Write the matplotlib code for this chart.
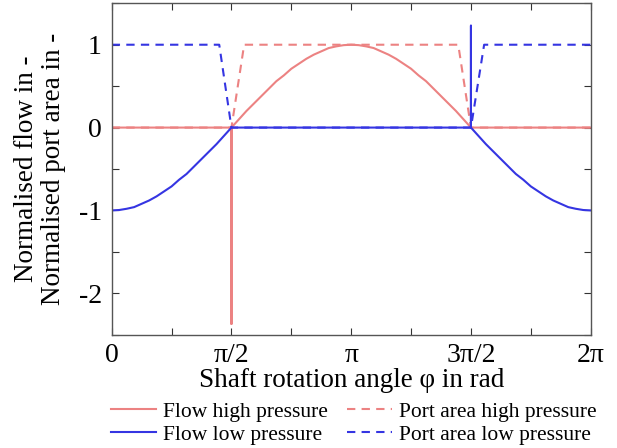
import numpy as np
import matplotlib.pyplot as plt

# angles in multiples of pi
phi_hp = [0, 0.5, 0.5, 0.5,
          0.53125, 0.5625, 0.59375, 0.625, 0.65625, 0.6875, 0.71875, 0.75,
          0.78125, 0.8125, 0.84375, 0.875, 0.90625, 0.9375, 0.96875, 1.0,
          1.03125, 1.0625, 1.09375, 1.125, 1.15625, 1.1875, 1.21875, 1.25,
          1.28125, 1.3125, 1.34375, 1.375, 1.40625, 1.4375, 1.46875, 1.5, 2.0]
flow_hp = [0, 0, -2.37, 0,
           0.10, 0.20, 0.29, 0.38, 0.47, 0.56, 0.63, 0.71,
           0.77, 0.83, 0.88, 0.92, 0.96, 0.98, 0.995, 1.0,
           0.995, 0.98, 0.96, 0.92, 0.88, 0.83, 0.77, 0.71,
           0.63, 0.56, 0.47, 0.38, 0.29, 0.20, 0.10, 0, 0]

phi_lp = [0, 0.03125, 0.0625, 0.09375, 0.125, 0.15625, 0.1875, 0.21875, 0.25,
          0.28125, 0.3125, 0.34375, 0.375, 0.40625, 0.4375, 0.46875, 0.5,
          1.5, 1.5, 1.5,
          1.53125, 1.5625, 1.59375, 1.625, 1.65625, 1.6875, 1.71875, 1.75,
          1.78125, 1.8125, 1.84375, 1.875, 1.90625, 1.9375, 1.96875, 2.0]
flow_lp = [-1.0, -0.995, -0.98, -0.96, -0.92, -0.88, -0.83, -0.77, -0.71,
           -0.63, -0.56, -0.47, -0.38, -0.29, -0.20, -0.10, 0,
           0, 1.23, 0,
           -0.10, -0.20, -0.29, -0.38, -0.47, -0.56, -0.63, -0.71,
           -0.77, -0.83, -0.88, -0.92, -0.96, -0.98, -0.995, -1.0]

phi_area_hp = [0, 0.5, 0.553, 1.447, 1.5, 2.0]
area_hp = [0, 0, 1, 1, 0, 0]

phi_area_lp = [0, 0.449, 0.5, 1.5, 1.555, 2.0]
area_lp = [1, 1, 0, 0, 1, 1]

red = '#ec8282'
blue = '#3535e2'

plt.rcParams['font.family'] = ['Liberation Serif', 'DejaVu Serif']
plt.rcParams['axes.unicode_minus'] = False

fig = plt.figure(figsize=(6.17, 4.48), dpi=100)
ax = fig.add_axes([111.7 / 617, 1 - 334.7 / 448, (590.7 - 111.7) / 617, (334.7 - 3.3) / 448])

ax.plot(np.array(phi_hp) * np.pi, flow_hp, color=red, lw=1.5, label='Flow high pressure')
ax.plot(np.array(phi_area_hp) * np.pi, area_hp, color=red, lw=1.5, ls=(0, (4, 3)),
        label='Port area high pressure')
ax.plot(np.array(phi_lp) * np.pi, flow_lp, color=blue, lw=1.5, label='Flow low pressure')
ax.plot(np.array(phi_area_lp) * np.pi, area_lp, color=blue, lw=1.5, ls=(0, (4, 3)),
        label='Port area low pressure')

ax.set_xlim(0, 2 * np.pi)
ax.set_ylim(-2.5, 1.5)
ax.set_xticks(np.arange(0, 2 * np.pi + 0.01, np.pi / 2))
ax.set_xticklabels(['0', 'π/2', 'π', '3π/2', '2π'])
ax.set_xticks(np.arange(0, 2 * np.pi + 0.01, np.pi / 4), minor=True)
ax.set_yticks([-2, -1, 0, 1])
ax.set_yticks(np.arange(-2.5, 1.51, 0.5), minor=True)
ax.tick_params(which='both', direction='in', top=True, right=True, labelsize=20,
               length=5, width=0.8, color='#333333')
ax.tick_params(axis='x', pad=6)
ax.tick_params(axis='y', pad=7)
for s in ax.spines.values():
    s.set_color('#555555')
    s.set_linewidth(1.0)

ax.set_xlabel('Shaft rotation angle φ in rad', fontsize=19.5, labelpad=0)
ax.set_ylabel('Normalised flow in -\nNormalised port area in -', fontsize=19.5,
              labelpad=9, linespacing=1.1)

h, l = ax.get_legend_handles_labels()
order = [0, 2, 1, 3]
fig.legend([h[i] for i in order], [l[i] for i in order], ncol=2, frameon=False,
           fontsize=15.5, loc='lower left', bbox_to_anchor=(96 / 617, -0.027),
           handlelength=2.1, handletextpad=0.3, columnspacing=0.9, labelspacing=0.15,
           borderpad=0.2)

fig.savefig('out.png', dpi=100)
